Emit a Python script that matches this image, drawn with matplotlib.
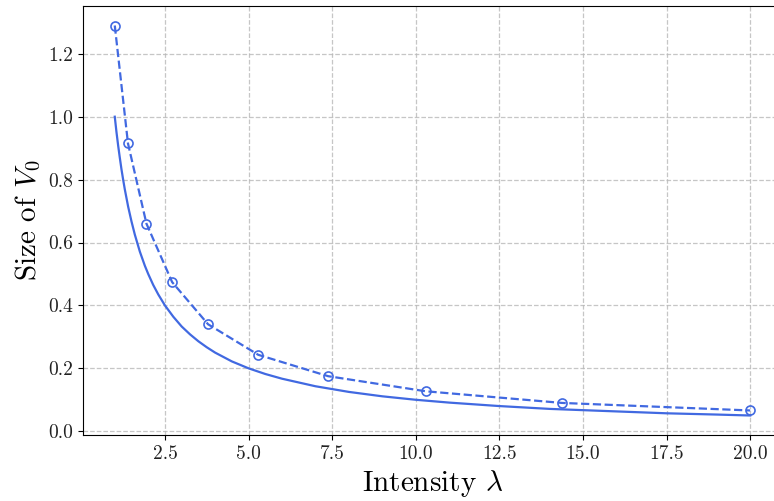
import matplotlib
matplotlib.use("Agg")
import matplotlib.pyplot as plt

plt.rcParams['font.family'] = 'serif'
plt.rcParams['font.serif'] = ['cmr10', 'DejaVu Serif']
plt.rcParams['mathtext.fontset'] = 'cm'
plt.rcParams['axes.formatter.use_mathtext'] = True

# solid curve
lam_solid = [1.0, 1.05, 1.1, 1.15, 1.2, 1.25, 1.3, 1.4, 1.5, 1.6, 1.75, 1.9, 2.0, 2.15,
             2.3, 2.5, 2.75, 3.0, 3.25, 3.5, 3.75, 4.0, 4.5, 5.0, 5.5, 6.0, 7.0, 8.0,
             9.0, 10.0, 11.0, 12.5, 14.0, 15.0, 16.5, 17.5, 19.0, 20.0]
v_solid = [1.0, 0.952, 0.909, 0.870, 0.833, 0.8, 0.769, 0.714, 0.667, 0.625, 0.571, 0.526,
           0.5, 0.465, 0.435, 0.4, 0.364, 0.333, 0.308, 0.286, 0.267, 0.25, 0.222, 0.2,
           0.182, 0.167, 0.143, 0.125, 0.111, 0.1, 0.091, 0.08, 0.071, 0.067, 0.061,
           0.057, 0.053, 0.05]

# dashed curve with markers
lam_pts = [1.0, 1.395, 1.947, 2.716, 3.79, 5.29, 7.38, 10.3, 14.37, 20.0]
v_pts = [1.29, 0.915, 0.66, 0.474, 0.34, 0.243, 0.175, 0.127, 0.09, 0.066]

color = '#4169E1'

fig = plt.figure(figsize=(7.74, 5.01), dpi=100)
ax = fig.add_axes([83/774, 1-435/501, (782-83)/774, (435-6)/501])

ax.plot(lam_solid, v_solid, '-', color=color, lw=1.6)
ax.plot(lam_pts, v_pts, '--', color=color, lw=1.6, marker='o', ms=6.5,
        mfc='none', mec=color, mew=1.2)

ax.grid(True, linestyle='--', color='#b8b8b8', alpha=0.8, lw=0.9)
ax.set_xticks([2.5, 5.0, 7.5, 10.0, 12.5, 15.0, 17.5, 20.0])
ax.set_yticks([0.0, 0.2, 0.4, 0.6, 0.8, 1.0, 1.2])
ax.set_xticklabels(['2.5', '5.0', '7.5', '10.0', '12.5', '15.0', '17.5', '20.0'])
ax.set_yticklabels(['0.0', '0.2', '0.4', '0.6', '0.8', '1.0', '1.2'])
ax.tick_params(labelsize=14, labelcolor='#222222')
ax.set_xlabel(r'Intensity $\lambda$', fontsize=21)
ax.set_ylabel(r'Size of $V_0$', fontsize=21)

fig.savefig('out.png', dpi=100)
